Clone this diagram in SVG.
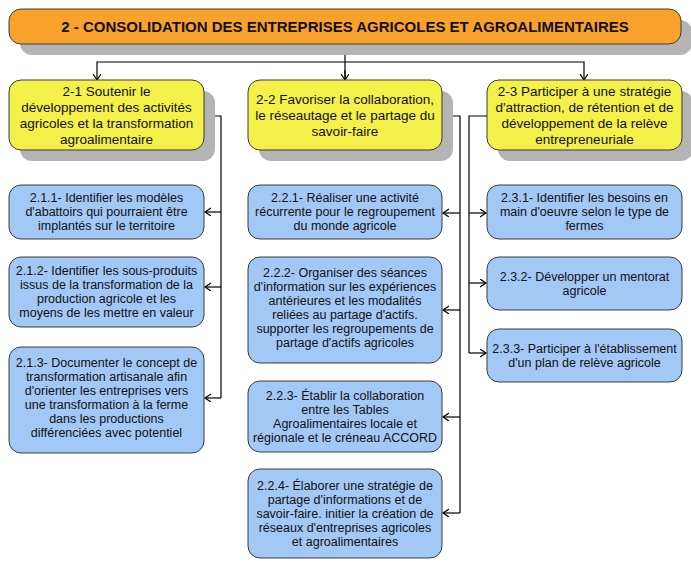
<svg xmlns="http://www.w3.org/2000/svg" width="691" height="568" viewBox="0 0 691 568">
<defs>
<style>
.title{fill:#F8A22C;stroke:#3a3a3a;stroke-width:1}
.obj{fill:#F4F04A;stroke:#3a3a3a;stroke-width:1}
.act{fill:#A2C8F6;stroke:#3a3a3a;stroke-width:1}
.shadow{fill:#B4B4B4}
text{font-family:"Liberation Sans",Arial,sans-serif;fill:#111;text-anchor:middle}
.tt{font-size:15px;font-weight:bold}
.ot{font-size:13.5px}
.at{font-size:12.5px}
.conn{fill:none;stroke:#000;stroke-width:1.2}
</style>
<marker id="arr" markerUnits="userSpaceOnUse" markerWidth="10" markerHeight="10" refX="6" refY="4" orient="auto">
<path d="M0,0 L6,4 L0,8" fill="none" stroke="#000" stroke-width="1.2"/>
</marker>
</defs>
<rect width="691" height="568" fill="#fff"/>

<g id="connectors">
<path class="conn" d="M345,44 V80"/>
<path class="conn" d="M345,62 H97 V80" marker-end="url(#arr)"/>
<path class="conn" d="M345,62 H584 V80" marker-end="url(#arr)"/>
<path class="conn" d="M345,70 V80" marker-end="url(#arr)"/>
<path class="conn" d="M204,116 H221 V398"/>
<path class="conn" d="M221,212 H205" marker-end="url(#arr)"/>
<path class="conn" d="M221,287 H205" marker-end="url(#arr)"/>
<path class="conn" d="M221,398 H205" marker-end="url(#arr)"/>
<path class="conn" d="M442,116 H460 V513"/>
<path class="conn" d="M460,213 H443" marker-end="url(#arr)"/>
<path class="conn" d="M460,310 H443" marker-end="url(#arr)"/>
<path class="conn" d="M460,417 H443" marker-end="url(#arr)"/>
<path class="conn" d="M460,513 H443" marker-end="url(#arr)"/>
<path class="conn" d="M487,116 H469 V353"/>
<path class="conn" d="M469,213 H486" marker-end="url(#arr)"/>
<path class="conn" d="M469,283 H486" marker-end="url(#arr)"/>
<path class="conn" d="M469,353 H486" marker-end="url(#arr)"/>
</g>

<g id="n2">
<rect class="shadow" x="20" y="20" width="672" height="35" rx="12"/>
<rect class="title" x="9" y="9" width="672" height="35" rx="12"/>
<text class="tt" x="345" y="32">2 - CONSOLIDATION DES ENTREPRISES AGRICOLES ET AGROALIMENTAIRES</text>
</g>

<g id="n2-1">
<rect class="shadow" x="20" y="91" width="195" height="70" rx="12"/>
<rect class="obj" x="9" y="80" width="195" height="70" rx="12"/>
<text class="ot" x="106.5"><tspan x="106.5" y="95.7">2-1 Soutenir le</tspan><tspan x="106.5" y="111.7">développement des activités</tspan><tspan x="106.5" y="127.7">agricoles et la transformation</tspan><tspan x="106.5" y="143.7">agroalimentaire</tspan></text>
</g>

<g id="n2-2">
<rect class="shadow" x="259" y="91" width="194" height="70" rx="12"/>
<rect class="obj" x="248" y="80" width="194" height="70" rx="12"/>
<text class="ot" x="345"><tspan x="345" y="103.7">2-2 Favoriser la collaboration,</tspan><tspan x="345" y="119.7">le réseautage et le partage du</tspan><tspan x="345" y="135.7">savoir-faire</tspan></text>
</g>

<g id="n2-3">
<rect class="shadow" x="498" y="91" width="195" height="70" rx="12"/>
<rect class="obj" x="487" y="80" width="195" height="70" rx="12"/>
<text class="ot" x="584.5"><tspan x="584.5" y="95.7">2-3 Participer à une stratégie</tspan><tspan x="584.5" y="111.7">d'attraction, de rétention et de</tspan><tspan x="584.5" y="127.7">développement de la relève</tspan><tspan x="584.5" y="143.7">entrepreneuriale</tspan></text>
</g>

<g id="n2-1-1">
<rect class="act" x="9" y="185" width="195" height="54" rx="12"/>
<text class="at"><tspan x="106.5" y="202.3">2.1.1- Identifier les modèles</tspan><tspan x="106.5" y="216.3">d'abattoirs qui pourraient être</tspan><tspan x="106.5" y="230.3">implantés sur le territoire</tspan></text>
</g>

<g id="n2-1-2">
<rect class="act" x="9" y="257" width="195" height="70" rx="12"/>
<text class="at"><tspan x="106.5" y="275.3">2.1.2- Identifier les sous-produits</tspan><tspan x="106.5" y="289.3">issus de la transformation de la</tspan><tspan x="106.5" y="303.3">production agricole et les</tspan><tspan x="106.5" y="317.3">moyens de les mettre en valeur</tspan></text>
</g>

<g id="n2-1-3">
<rect class="act" x="9" y="347" width="195" height="106" rx="12"/>
<text class="at"><tspan x="106.5" y="367.3">2.1.3- Documenter le concept de</tspan><tspan x="106.5" y="381.3">transformation artisanale afin</tspan><tspan x="106.5" y="395.3">d'orienter les entreprises vers</tspan><tspan x="106.5" y="409.3">une transformation à la ferme</tspan><tspan x="106.5" y="423.3">dans les productions</tspan><tspan x="106.5" y="437.3">différenciées avec potentiel</tspan></text>
</g>

<g id="n2-2-1">
<rect class="act" x="248" y="185" width="194" height="54" rx="12"/>
<text class="at"><tspan x="345" y="202.3">2.2.1- Réaliser une activité</tspan><tspan x="345" y="216.3">récurrente pour le regroupement</tspan><tspan x="345" y="230.3">du monde agricole</tspan></text>
</g>

<g id="n2-2-2">
<rect class="act" x="248" y="257" width="194" height="106" rx="12"/>
<text class="at"><tspan x="345" y="277.3">2.2.2- Organiser des séances</tspan><tspan x="345" y="291.3">d'information sur les expériences</tspan><tspan x="345" y="305.3">antérieures et les modalités</tspan><tspan x="345" y="319.3">reliées au partage d'actifs.</tspan><tspan x="345" y="333.3">supporter les regroupements de</tspan><tspan x="345" y="347.3">partage d'actifs agricoles</tspan></text>
</g>

<g id="n2-2-3">
<rect class="act" x="248" y="381" width="194" height="71" rx="12"/>
<text class="at"><tspan x="345" y="399.8">2.2.3- Établir la collaboration</tspan><tspan x="345" y="413.8">entre les Tables</tspan><tspan x="345" y="427.8">Agroalimentaires locale et</tspan><tspan x="345" y="441.8">régionale et le créneau ACCORD</tspan></text>
</g>

<g id="n2-2-4">
<rect class="act" x="248" y="469" width="194" height="89" rx="12"/>
<text class="at"><tspan x="345" y="489.8">2.2.4- Élaborer une stratégie de</tspan><tspan x="345" y="503.8">partage d'informations et de</tspan><tspan x="345" y="517.8">savoir-faire. initier la création de</tspan><tspan x="345" y="531.8">réseaux d'entreprises agricoles</tspan><tspan x="345" y="545.8">et agroalimentaires</tspan></text>
</g>

<g id="n2-3-1">
<rect class="act" x="487" y="185" width="195" height="54" rx="12"/>
<text class="at"><tspan x="584.5" y="202.3">2.3.1- Identifier les besoins en</tspan><tspan x="584.5" y="216.3">main d'oeuvre selon le type de</tspan><tspan x="584.5" y="230.3">fermes</tspan></text>
</g>

<g id="n2-3-2">
<rect class="act" x="487" y="257" width="195" height="53" rx="12"/>
<text class="at"><tspan x="584.5" y="280.8">2.3.2- Développer un mentorat</tspan><tspan x="584.5" y="294.8">agricole</tspan></text>
</g>

<g id="n2-3-3">
<rect class="act" x="487" y="329" width="195" height="53" rx="12"/>
<text class="at"><tspan x="584.5" y="352.8">2.3.3- Participer à l'établissement</tspan><tspan x="584.5" y="366.8">d'un plan de relève agricole</tspan></text>
</g>
</svg>
